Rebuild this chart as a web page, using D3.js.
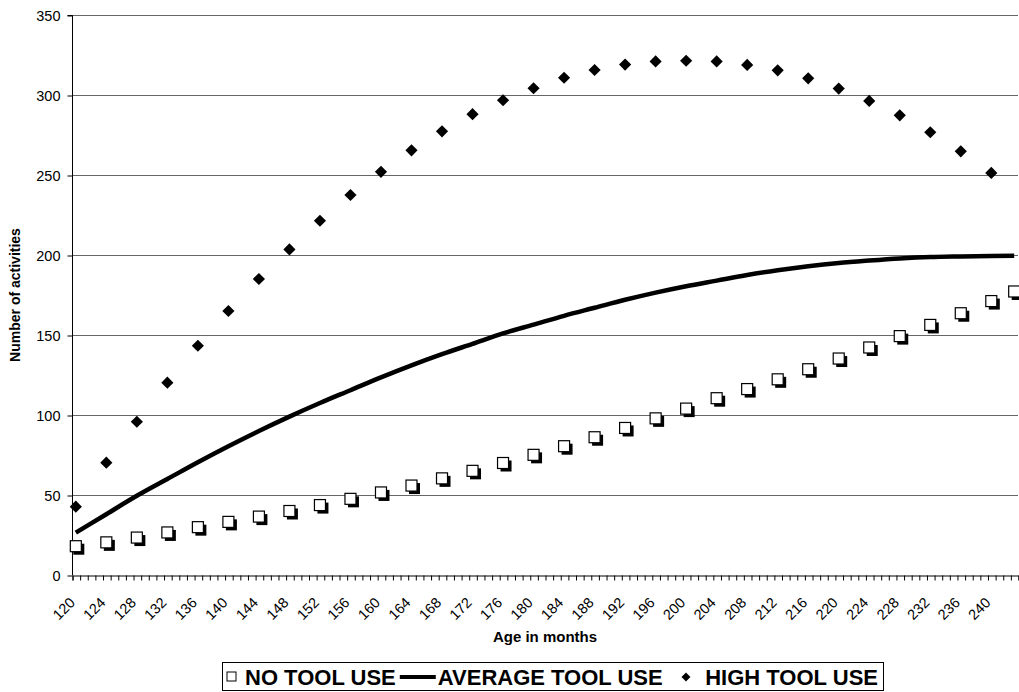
<!DOCTYPE html>
<html>
<head>
<meta charset="utf-8">
<script src="https://cdn.jsdelivr.net/npm/d3@7/dist/d3.min.js"></script>
<style>
  body { margin: 0; background: #fff; }
  svg { font-family: 'Liberation Sans', Arial, sans-serif; }
  .grid line { stroke: #666; stroke-width: 1; }
  .axis path, .axis line { stroke: #000; }
  .axis text { font-size: 14.5px; fill: #000; }
</style>
</head>
<body>
<svg id="chart" width="1019" height="692"></svg>
<script>
'use strict';

// months where markers are drawn
const ages = [120, 124, 128, 132, 136, 140, 144, 148, 152, 156, 160, 164, 168, 172, 176, 180,
  184, 188, 192, 196, 200, 204, 208, 212, 216, 220, 224, 228, 232, 236, 240];
const agesToEnd = ages.concat([243]);

const noToolUse = [18, 20.4, 23.4, 26.6, 29.9, 33.2, 36.5, 40, 43.7, 47.6, 51.6, 55.9, 60.4, 65.1,
  70, 75.1, 80.5, 86.1, 91.9, 97.9, 104, 110.5, 116.2, 122.3, 128.6, 135.3, 142.2, 149.3, 156.3,
  163.6, 171.2, 177.2];

const averageToolUse = [26.5, 38, 49.5, 60, 70.5, 80.5, 90, 99, 107.5, 115.5, 123.5, 131, 138,
  144.5, 151, 156.5, 162, 167, 172, 176.5, 180.5, 184, 187.5, 190.5, 193, 195, 196.5, 197.8,
  198.7, 199.1, 199.4, 199.5];

const highToolUse = [42.7, 70.2, 95.8, 120.2, 143.3, 165, 185, 203.5, 221.4, 237.5, 252, 265.4,
  277.3, 288, 296.7, 304.2, 310.8, 315.6, 319, 321, 321.4, 321, 318.8, 315.4, 310.4, 304, 296.3,
  287.3, 276.7, 264.8, 251.3];

const yTicks = [0, 50, 100, 150, 200, 250, 300, 350];
const xTickLabels = ages;
const firstMonth = 120;
const lastMonth = 243;

const margin = { left: 72, right: 1018, top: 15, bottom: 575 };
const svg = d3.select('#chart');

const x = d3.scaleLinear().domain([firstMonth - 0.5, lastMonth + 0.5]).range([margin.left, margin.right]);
const y = d3.scaleLinear().domain([0, 350]).range([margin.bottom, margin.top]);

// gridlines
svg.append('g').classed('grid', true)
  .selectAll('line').data(yTicks.slice(1)).enter().append('line')
  .attr('x1', margin.left).attr('x2', margin.right)
  .attr('y1', d => y(d) + 0.5).attr('y2', d => y(d) + 0.5);

// y axis
let yAxis = d3.axisLeft(y).tickValues(yTicks).tickSize(5).tickPadding(7);
let yG = svg.append('g').classed('axis', true)
  .attr('transform', `translate(${margin.left + 0.5},0.5)`).call(yAxis);
yG.select('.domain').attr('d', `M-5,${y(350)}H0V${y(0)}`);

// x axis: minor ticks between every month
let minorTicks = d3.range(firstMonth - 0.5, lastMonth + 1, 1);
let xMinor = d3.axisBottom(x).tickValues(minorTicks).tickSize(5).tickFormat('');
svg.append('g').classed('axis', true)
  .attr('transform', `translate(0.5,${margin.bottom + 0.5})`).call(xMinor);

let xLabels = d3.axisBottom(x).tickValues(xTickLabels).tickSize(0).tickFormat(d3.format('d'));
let xg = svg.append('g').classed('axis', true)
  .attr('transform', `translate(0,${margin.bottom})`).call(xLabels);
xg.select('.domain').remove();
xg.selectAll('text')
  .attr('text-anchor', 'end')
  .attr('transform', 'translate(-4,25) rotate(-45)')
  .attr('dy', '0.35em').attr('y', 0).attr('x', 0);

// axis titles
svg.append('text')
  .attr('transform', `translate(20,${(margin.top + margin.bottom) / 2}) rotate(-90)`)
  .attr('text-anchor', 'middle').style('font-size', '14px').style('font-weight', 'bold')
  .text('Number of activities');

svg.append('text')
  .attr('x', (margin.left + margin.right) / 2).attr('y', 642)
  .attr('text-anchor', 'middle').style('font-size', '15px').style('font-weight', 'bold')
  .text('Age in months');

// average line
let line = d3.line()
  .x((d, i) => x(agesToEnd[i]))
  .y(d => y(d))
  .curve(d3.curveMonotoneX);

svg.append('path').datum(averageToolUse)
  .attr('d', line).attr('fill', 'none').attr('stroke', '#000').attr('stroke-width', 4.5);

// no tool use: white squares with a black shadow
let sq = 11;
let noTool = svg.append('g');
noTool.selectAll('.shadow').data(noToolUse).enter().append('rect').classed('shadow', true)
  .attr('x', (d, i) => x(agesToEnd[i]) - sq / 2 + 3).attr('y', d => y(d) - sq / 2 + 3)
  .attr('width', sq).attr('height', sq).attr('fill', '#000');
noTool.selectAll('.box').data(noToolUse).enter().append('rect').classed('box', true)
  .attr('x', (d, i) => x(agesToEnd[i]) - sq / 2).attr('y', d => y(d) - sq / 2)
  .attr('width', sq).attr('height', sq).attr('fill', '#fff').attr('stroke', '#000').attr('stroke-width', 1.2);

// high tool use diamonds
let diamond = d3.symbol().type(d3.symbolSquare).size(74);
svg.append('g').selectAll('path').data(highToolUse).enter().append('path')
  .attr('d', diamond)
  .attr('transform', (d, i) => `translate(${x(ages[i])},${y(d)}) rotate(45)`)
  .attr('fill', '#000');

// legend
let legend = svg.append('g');
legend.append('rect').attr('x', 222.5).attr('y', 662.5).attr('width', 661).attr('height', 28)
  .attr('fill', '#fff').attr('stroke', '#000');
let ly = 677;
let legendFont = '22px';
legend.append('rect').attr('x', 227).attr('y', ly - 5).attr('width', 9).attr('height', 9)
  .attr('fill', '#fff').attr('stroke', '#000');
let t1 = legend.append('text').attr('x', 245).attr('y', ly).attr('dy', '0.35em')
  .style('font-size', legendFont).style('font-weight', 'bold').text('NO TOOL USE');
let cx = 245 + t1.node().getComputedTextLength() + 4;
legend.append('line').attr('x1', cx).attr('x2', cx + 36).attr('y1', ly).attr('y2', ly)
  .attr('stroke', '#000').attr('stroke-width', 4);
cx += 38;
let t2 = legend.append('text').attr('x', cx).attr('y', ly).attr('dy', '0.35em')
  .style('font-size', legendFont).style('font-weight', 'bold').text('AVERAGE TOOL USE');
let t3 = legend.append('text').attr('y', ly).attr('dy', '0.35em')
  .style('font-size', legendFont).style('font-weight', 'bold').text('HIGH TOOL USE');
let t3x = 878 - t3.node().getComputedTextLength();
t3.attr('x', t3x);
let dx = (cx + t2.node().getComputedTextLength() + t3x) / 2 + 2;
legend.append('path').attr('d', d3.symbol().type(d3.symbolSquare).size(40))
  .attr('transform', `translate(${dx},${ly}) rotate(45)`).attr('fill', '#000');
</script>
</body>
</html>
